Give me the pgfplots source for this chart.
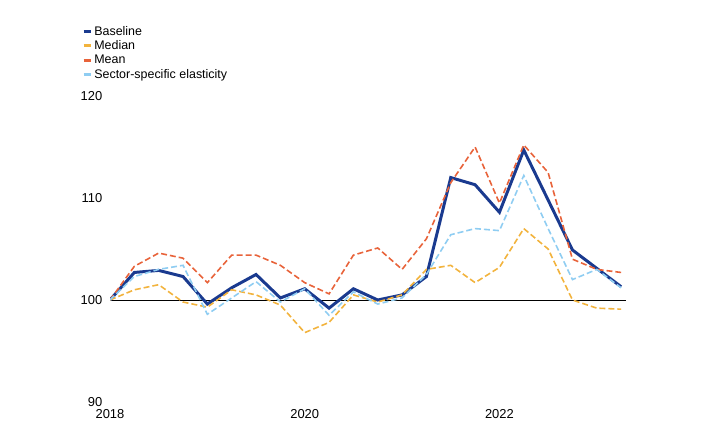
\documentclass[border=0pt]{standalone}
\usepackage{pgfplots}
\pgfplotsset{compat=1.18}
\usepackage{fontspec}
\setmainfont{Liberation Sans}
\definecolor{cbase}{HTML}{1A3A8F}
\definecolor{cmed}{HTML}{F2B33D}
\definecolor{cmean}{HTML}{E8633A}
\definecolor{csec}{HTML}{8FCDF2}
\begin{document}
\begin{tikzpicture}[x=1bp,y=1bp]
\path (0,0) rectangle (702,438);
\begin{axis}[at={(110bp,36bp)},anchor=south west,scale only axis,
 width=516bp,height=306bp,
 xmin=2018,xmax=2023.3,ymin=90,ymax=120,
 axis line style={draw=none},
 xtick={2018,2020,2022},ytick={90,100,110,120},
 xticklabel style={/pgf/number format/1000 sep={}},
 tick style={draw=none},
 font=\fontsize{13}{15}\selectfont,
 /pgf/number format/assume math mode=true,
 legend style={at={(-0.06,1.0)},anchor=south west,yshift=12bp,draw=none,fill=none,
   font=\fontsize{12.5}{14}\selectfont,row sep=0bp,cells={anchor=west}},
 legend image code/.code={\draw[#1,solid,line width=3pt] (0,0) -- (0.25cm,0);},
 every axis plot/.append style={line width=1.6pt},
 xtick align=outside, ytick align=outside,
]
\draw[black,line width=0.7pt] (axis cs:2018,100) -- (axis cs:2023.3,100);
\addplot[cbase,line width=3pt] table {
2018 100
2018.25 102.7
2018.5 102.9
2018.75 102.3
2019 99.6
2019.25 101.2
2019.5 102.5
2019.75 100.2
2020 101.1
2020.25 99.2
2020.5 101.1
2020.75 100
2021 100.5
2021.25 102.3
2021.5 112
2021.75 111.3
2022 108.6
2022.25 114.7
2022.5 109.8
2022.75 104.9
2023 103.1
2023.25 101.3
};
\addlegendentry{Baseline}
\addplot[cmed,dash pattern=on 6pt off 3pt] table {
2018 100
2018.25 101
2018.5 101.5
2018.75 99.8
2019 99.3
2019.25 101
2019.5 100.5
2019.75 99.5
2020 96.8
2020.25 97.8
2020.5 100.5
2020.75 99.8
2021 100.5
2021.25 103
2021.5 103.4
2021.75 101.7
2022 103.2
2022.25 107
2022.5 105
2022.75 100
2023 99.2
2023.25 99.1
};
\addlegendentry{Median}
\addplot[cmean,dash pattern=on 6pt off 3pt] table {
2018 100
2018.25 103.3
2018.5 104.6
2018.75 104.1
2019 101.7
2019.25 104.4
2019.5 104.4
2019.75 103.4
2020 101.7
2020.25 100.6
2020.5 104.4
2020.75 105.1
2021 103
2021.25 106
2021.5 111.5
2021.75 115
2022 109.5
2022.25 115.2
2022.5 112.5
2022.75 104
2023 103
2023.25 102.7
};
\addlegendentry{Mean}
\addplot[csec,dash pattern=on 6pt off 3pt] table {
2018 100
2018.25 102.3
2018.5 103
2018.75 103.4
2019 98.6
2019.25 100.2
2019.5 101.8
2019.75 99.8
2020 101.1
2020.25 98.5
2020.5 100.8
2020.75 99.6
2021 100.2
2021.25 102.5
2021.5 106.4
2021.75 107
2022 106.8
2022.25 112.2
2022.5 107
2022.75 102
2023 103
2023.25 101.2
};
\addlegendentry{Sector-specific elasticity}
\end{axis}
\end{tikzpicture}
\end{document}
